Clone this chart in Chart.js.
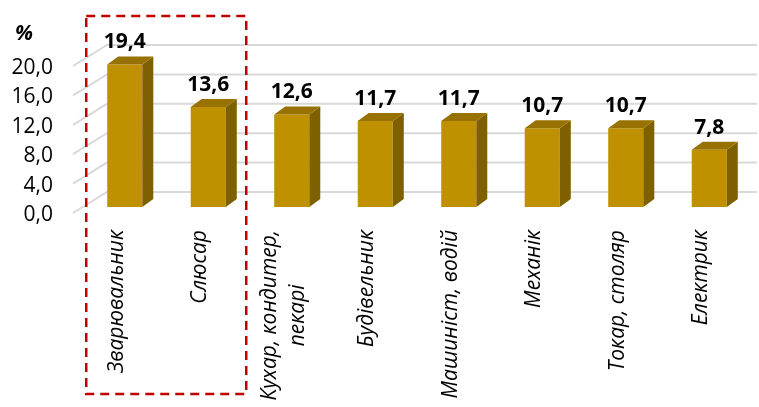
<!DOCTYPE html>
<html><head><meta charset="utf-8">
<script src="https://cdn.jsdelivr.net/npm/chart.js@4/dist/chart.umd.min.js"></script>
<style>html,body{margin:0;padding:0;background:#fff;}#wrap{width:759px;height:407px;position:relative;}</style>
</head><body><div id="wrap"><canvas id="c" width="759" height="407"></canvas></div>
<script>
// ---- data ----
const categories = [
  ["Зварювальник"],
  ["Слюсар"],
  ["Кухар, кондитер,", "пекарі"],
  ["Будівельник"],
  ["Машиніст, водій"],
  ["Механік"],
  ["Токар, столяр"],
  ["Електрик"]
];
const values = [19.4, 13.6, 12.6, 11.7, 11.7, 10.7, 10.7, 7.8];
const yTickValues = [0, 4, 8, 12, 16, 20];
const yUnit = "%";
const highlighted = [0, 1];

const fmt = v => v.toFixed(1).replace('.', ',');
const FONT = '"Open Sans", "Noto Sans", sans-serif';
const DX = 11, DY = 8;

const threeD = {
  id: 'threeD',
  beforeDatasetsDraw(chart) {
    const ctx = chart.ctx, ys = chart.scales.y, ca = chart.chartArea;
    ctx.save();
    ctx.strokeStyle = '#d9d9d9';
    ctx.lineWidth = 2;
    yTickValues.forEach(v => {
      const py = ys.getPixelForValue(v);
      ctx.beginPath();
      ctx.moveTo(ca.left - 10, py + 6);
      ctx.lineTo(ca.left + 24, py - 15);
      ctx.lineTo(chart.width - 2, py - 15);
      ctx.stroke();
    });
    ctx.restore();
  },
  afterDatasetsDraw(chart) {
    const ctx = chart.ctx;
    const meta = chart.getDatasetMeta(0);
    ctx.save();
    meta.data.forEach((el, i) => {
      const p = el.getProps(['x', 'y', 'width', 'base'], true);
      const l = p.x - p.width / 2, r = p.x + p.width / 2;
      ctx.fillStyle = '#7f6000';
      ctx.beginPath();
      ctx.moveTo(r, p.y); ctx.lineTo(r + DX, p.y - DY);
      ctx.lineTo(r + DX, p.base - DY); ctx.lineTo(r, p.base);
      ctx.closePath(); ctx.fill();
      ctx.fillStyle = '#977200';
      ctx.beginPath();
      ctx.moveTo(l, p.y); ctx.lineTo(l + DX, p.y - DY);
      ctx.lineTo(r + DX, p.y - DY); ctx.lineTo(r, p.y);
      ctx.closePath(); ctx.fill();
      ctx.fillStyle = '#000';
      ctx.font = 'bold 21px ' + FONT;
      ctx.textAlign = 'center';
      ctx.textBaseline = 'middle';
      ctx.fillText(fmt(values[i]), p.x, p.y - 22);
    });
    ctx.restore();
  },
  afterDraw(chart) {
    const ctx = chart.ctx, xs = chart.scales.x;
    ctx.save();
    ctx.fillStyle = '#000';
    ctx.font = 'italic 21px ' + FONT;
    ctx.textBaseline = 'middle';
    const lh = 28;
    categories.forEach((lines, i) => {
      const cx = xs.getPixelForValue(i) - 8;
      const w0 = ctx.measureText(lines[0]).width;
      lines.forEach((t, j) => {
        const off = (j - (lines.length - 1) / 2) * lh;
        ctx.save();
        ctx.translate(cx + off, 230);
        ctx.rotate(-Math.PI / 2);
        if (j === 0) { ctx.textAlign = 'right'; ctx.fillText(t, 0, 0); }
        else { ctx.textAlign = 'center'; ctx.fillText(t, -w0 / 2, 0); }
        ctx.restore();
      });
    });
    ctx.font = 'bold italic 21px ' + FONT;
    ctx.textAlign = 'center';
    ctx.fillText(yUnit, 24, 34);
    const x0 = xs.getPixelForValue(highlighted[0]) - 38.5;
    const x1 = xs.getPixelForValue(highlighted[highlighted.length - 1]) + 38;
    ctx.strokeStyle = '#c00000';
    ctx.lineWidth = 2.5;
    ctx.setLineDash([9, 6]);
    ctx.strokeRect(x0, 16, x1 - x0, 378);
    ctx.restore();
  }
};

new Chart(document.getElementById('c'), {
  type: 'bar',
  data: {
    labels: categories,
    datasets: [{
      data: values,
      backgroundColor: '#bf9000',
      borderWidth: 0,
      barPercentage: 0.42,
      categoryPercentage: 1
    }]
  },
  options: {
    responsive: false,
    animation: false,
    devicePixelRatio: 1,
    layout: { padding: { left: 0, right: 8, top: 60, bottom: 200 } },
    plugins: { legend: { display: false }, tooltip: { enabled: false } },
    scales: {
      x: { display: false },
      y: {
        min: 0, max: 20,
        afterBuildTicks: s => { s.ticks = yTickValues.map(v => ({ value: v })); },
        afterFit: s => { s.width = 83; },
        grid: { display: false, drawTicks: false },
        border: { display: false },
        ticks: {
          padding: 30,
          labelOffset: 8,
          color: '#000',
          font: { family: FONT, size: 21 },
          callback: v => fmt(v)
        }
      }
    }
  },
  plugins: [threeD]
});
</script>
</body></html>
